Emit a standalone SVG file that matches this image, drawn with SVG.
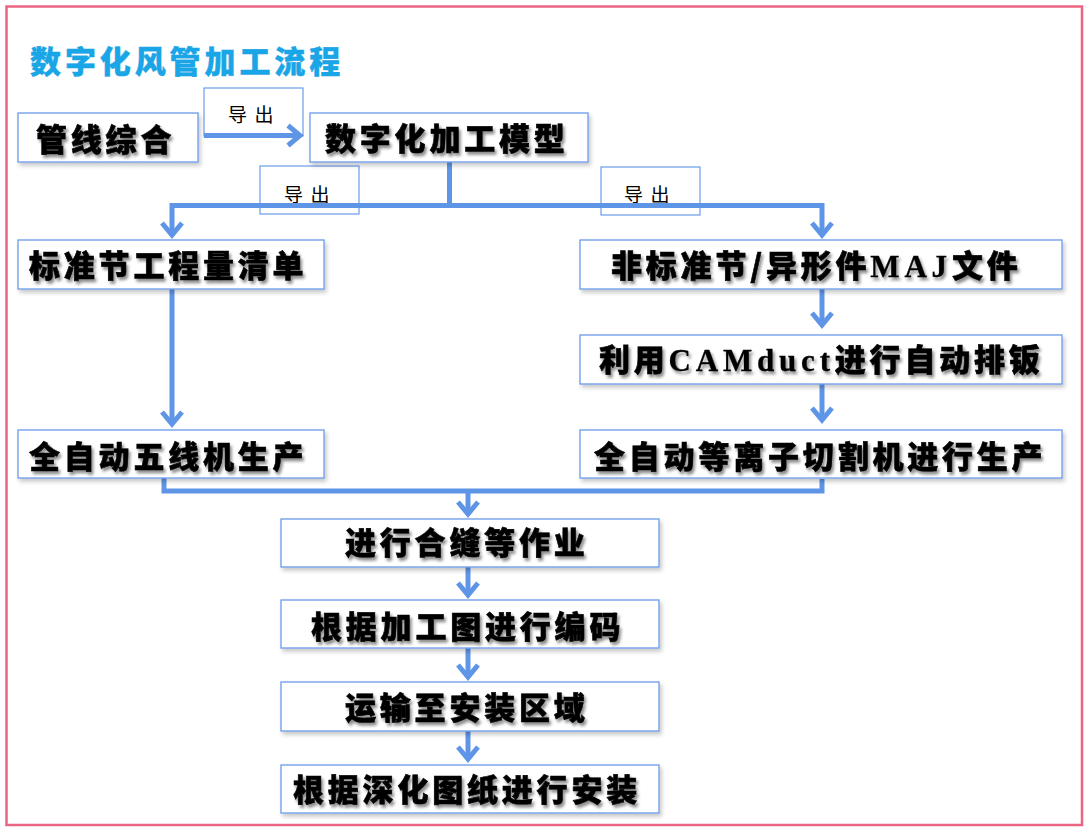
<svg xmlns="http://www.w3.org/2000/svg" width="1089" height="832" viewBox="0 0 1089 832">
  <defs>
    <style>
      .frame { fill: #ffffff; stroke: #ec6483; stroke-width: 2.5; }
      .title { font-family: "Noto Sans CJK SC", "Noto Sans", sans-serif; font-weight: 900; font-size: 31px; letter-spacing: 3.9px; fill: #1aa6e6; stroke: #1aa6e6; stroke-width: 0.4; }
      .box { fill: #ffffff; stroke: #6a9ceb; stroke-width: 1.3; filter: url(#boxShadow); }
      .lbox { fill: none; stroke: #6a9ceb; stroke-width: 1.2; }
      .t { font-family: "Noto Sans CJK SC", "Noto Sans", sans-serif; font-weight: 900; font-size: 31px; letter-spacing: 3.8px; fill: #000000; stroke: #000000; stroke-width: 0.6; filter: url(#textShadow); }
      .lat { font-family: "Liberation Serif", "Times New Roman", serif; font-weight: bold; letter-spacing: 4.8px; stroke-width: 0.3; }
      .lt { font-family: "Noto Sans CJK SC", "Noto Sans", sans-serif; font-size: 19px; letter-spacing: 7.5px; fill: #000000; }
      .c { fill: none; stroke: #5f95e6; stroke-width: 5; }
      .ca { fill: none; stroke: #5f95e6; stroke-width: 5; marker-end: url(#chev); }
    </style>
    <marker id="chev" markerUnits="userSpaceOnUse" markerWidth="34" markerHeight="34" viewBox="-22 -17 34 34" refX="0" refY="0" orient="auto">
      <path d="M -12 -10 L 0 0 L -12 10" fill="none" stroke="#5f95e6" stroke-width="5" stroke-linejoin="miter"/>
    </marker>
    <filter id="boxShadow" x="-5%" y="-20%" width="115%" height="150%">
      <feDropShadow dx="2" dy="3" stdDeviation="2" flood-color="#000000" flood-opacity="0.22"/>
    </filter>
    <filter id="textShadow" x="-5%" y="-20%" width="115%" height="160%">
      <feDropShadow dx="2" dy="3" stdDeviation="1.4" flood-color="#000000" flood-opacity="0.45"/>
    </filter>
  </defs>

  <rect class="frame" x="6.5" y="6.5" width="1075.5" height="818.5"/>

  <text class="title" x="30" y="73">数字化风管加工流程</text>

  <g id="labels">
    <g id="label-export-1">
      <rect class="lbox" x="204" y="88" width="99" height="48"/>
      <text class="lt" x="228" y="122">导出</text>
    </g>
    <g id="label-export-2">
      <rect class="lbox" x="260" y="166" width="99" height="48"/>
      <text class="lt" x="284" y="202">导出</text>
    </g>
    <g id="label-export-3">
      <rect class="lbox" x="601" y="167" width="99" height="48"/>
      <text class="lt" x="624" y="202">导出</text>
    </g>
  </g>

  <g id="connectors">
    <line class="ca" x1="204" y1="135.5" x2="300" y2="135.5"/>
    <line class="c" x1="449.5" y1="162" x2="449.5" y2="205.5"/>
    <polyline class="c" points="172,236 172,205.5 822,205.5 822,236"/>
    <line class="ca" x1="172" y1="232" x2="172" y2="235"/>
    <line class="ca" x1="822" y1="232" x2="822" y2="235"/>
    <line class="ca" x1="172" y1="289" x2="172" y2="424"/>
    <line class="ca" x1="822" y1="289" x2="822" y2="325"/>
    <line class="ca" x1="822" y1="384" x2="822" y2="420"/>
    <polyline class="c" points="164,478 164,491 822,491 822,479"/>
    <line class="ca" x1="468" y1="491" x2="468" y2="514"/>
    <line class="ca" x1="468" y1="567" x2="468" y2="595"/>
    <line class="ca" x1="468" y1="648" x2="468" y2="677"/>
    <line class="ca" x1="468" y1="731" x2="468" y2="759"/>
  </g>

  <g id="node-guanxian">
    <rect class="box" x="18" y="113" width="180" height="49"/>
    <text class="t" x="36" y="151">管线综合</text>
  </g>
  <g id="node-model">
    <rect class="box" x="310" y="113" width="278" height="49"/>
    <text class="t" x="325" y="150">数字化加工模型</text>
  </g>
  <g id="node-standard">
    <rect class="box" x="18" y="240" width="306" height="49"/>
    <text class="t" x="29" y="277">标准节工程量清单</text>
  </g>
  <g id="node-nonstandard">
    <rect class="box" x="580" y="240" width="482" height="49"/>
    <text class="t" x="611" y="277">非标准节/异形件<tspan class="lat">MAJ</tspan>文件</text>
  </g>
  <g id="node-camduct">
    <rect class="box" x="580" y="335" width="482" height="49"/>
    <text class="t" x="599" y="371">利用<tspan class="lat">CAMduct</tspan>进行自动排钣</text>
  </g>
  <g id="node-plasma">
    <rect class="box" x="580" y="430" width="482" height="48"/>
    <text class="t" x="594" y="468">全自动等离子切割机进行生产</text>
  </g>
  <g id="node-fiveline">
    <rect class="box" x="18" y="430" width="306" height="48"/>
    <text class="t" x="29" y="468">全自动五线机生产</text>
  </g>
  <g id="node-seam">
    <rect class="box" x="281" y="519" width="378" height="48"/>
    <text class="t" x="345" y="554">进行合缝等作业</text>
  </g>
  <g id="node-code">
    <rect class="box" x="281" y="600" width="378" height="48"/>
    <text class="t" x="311" y="638">根据加工图进行编码</text>
  </g>
  <g id="node-transport">
    <rect class="box" x="281" y="682" width="378" height="49"/>
    <text class="t" x="345" y="719">运输至安装区域</text>
  </g>
  <g id="node-install">
    <rect class="box" x="281" y="765" width="378" height="48"/>
    <text class="t" x="293" y="801">根据深化图纸进行安装</text>
  </g>
</svg>
